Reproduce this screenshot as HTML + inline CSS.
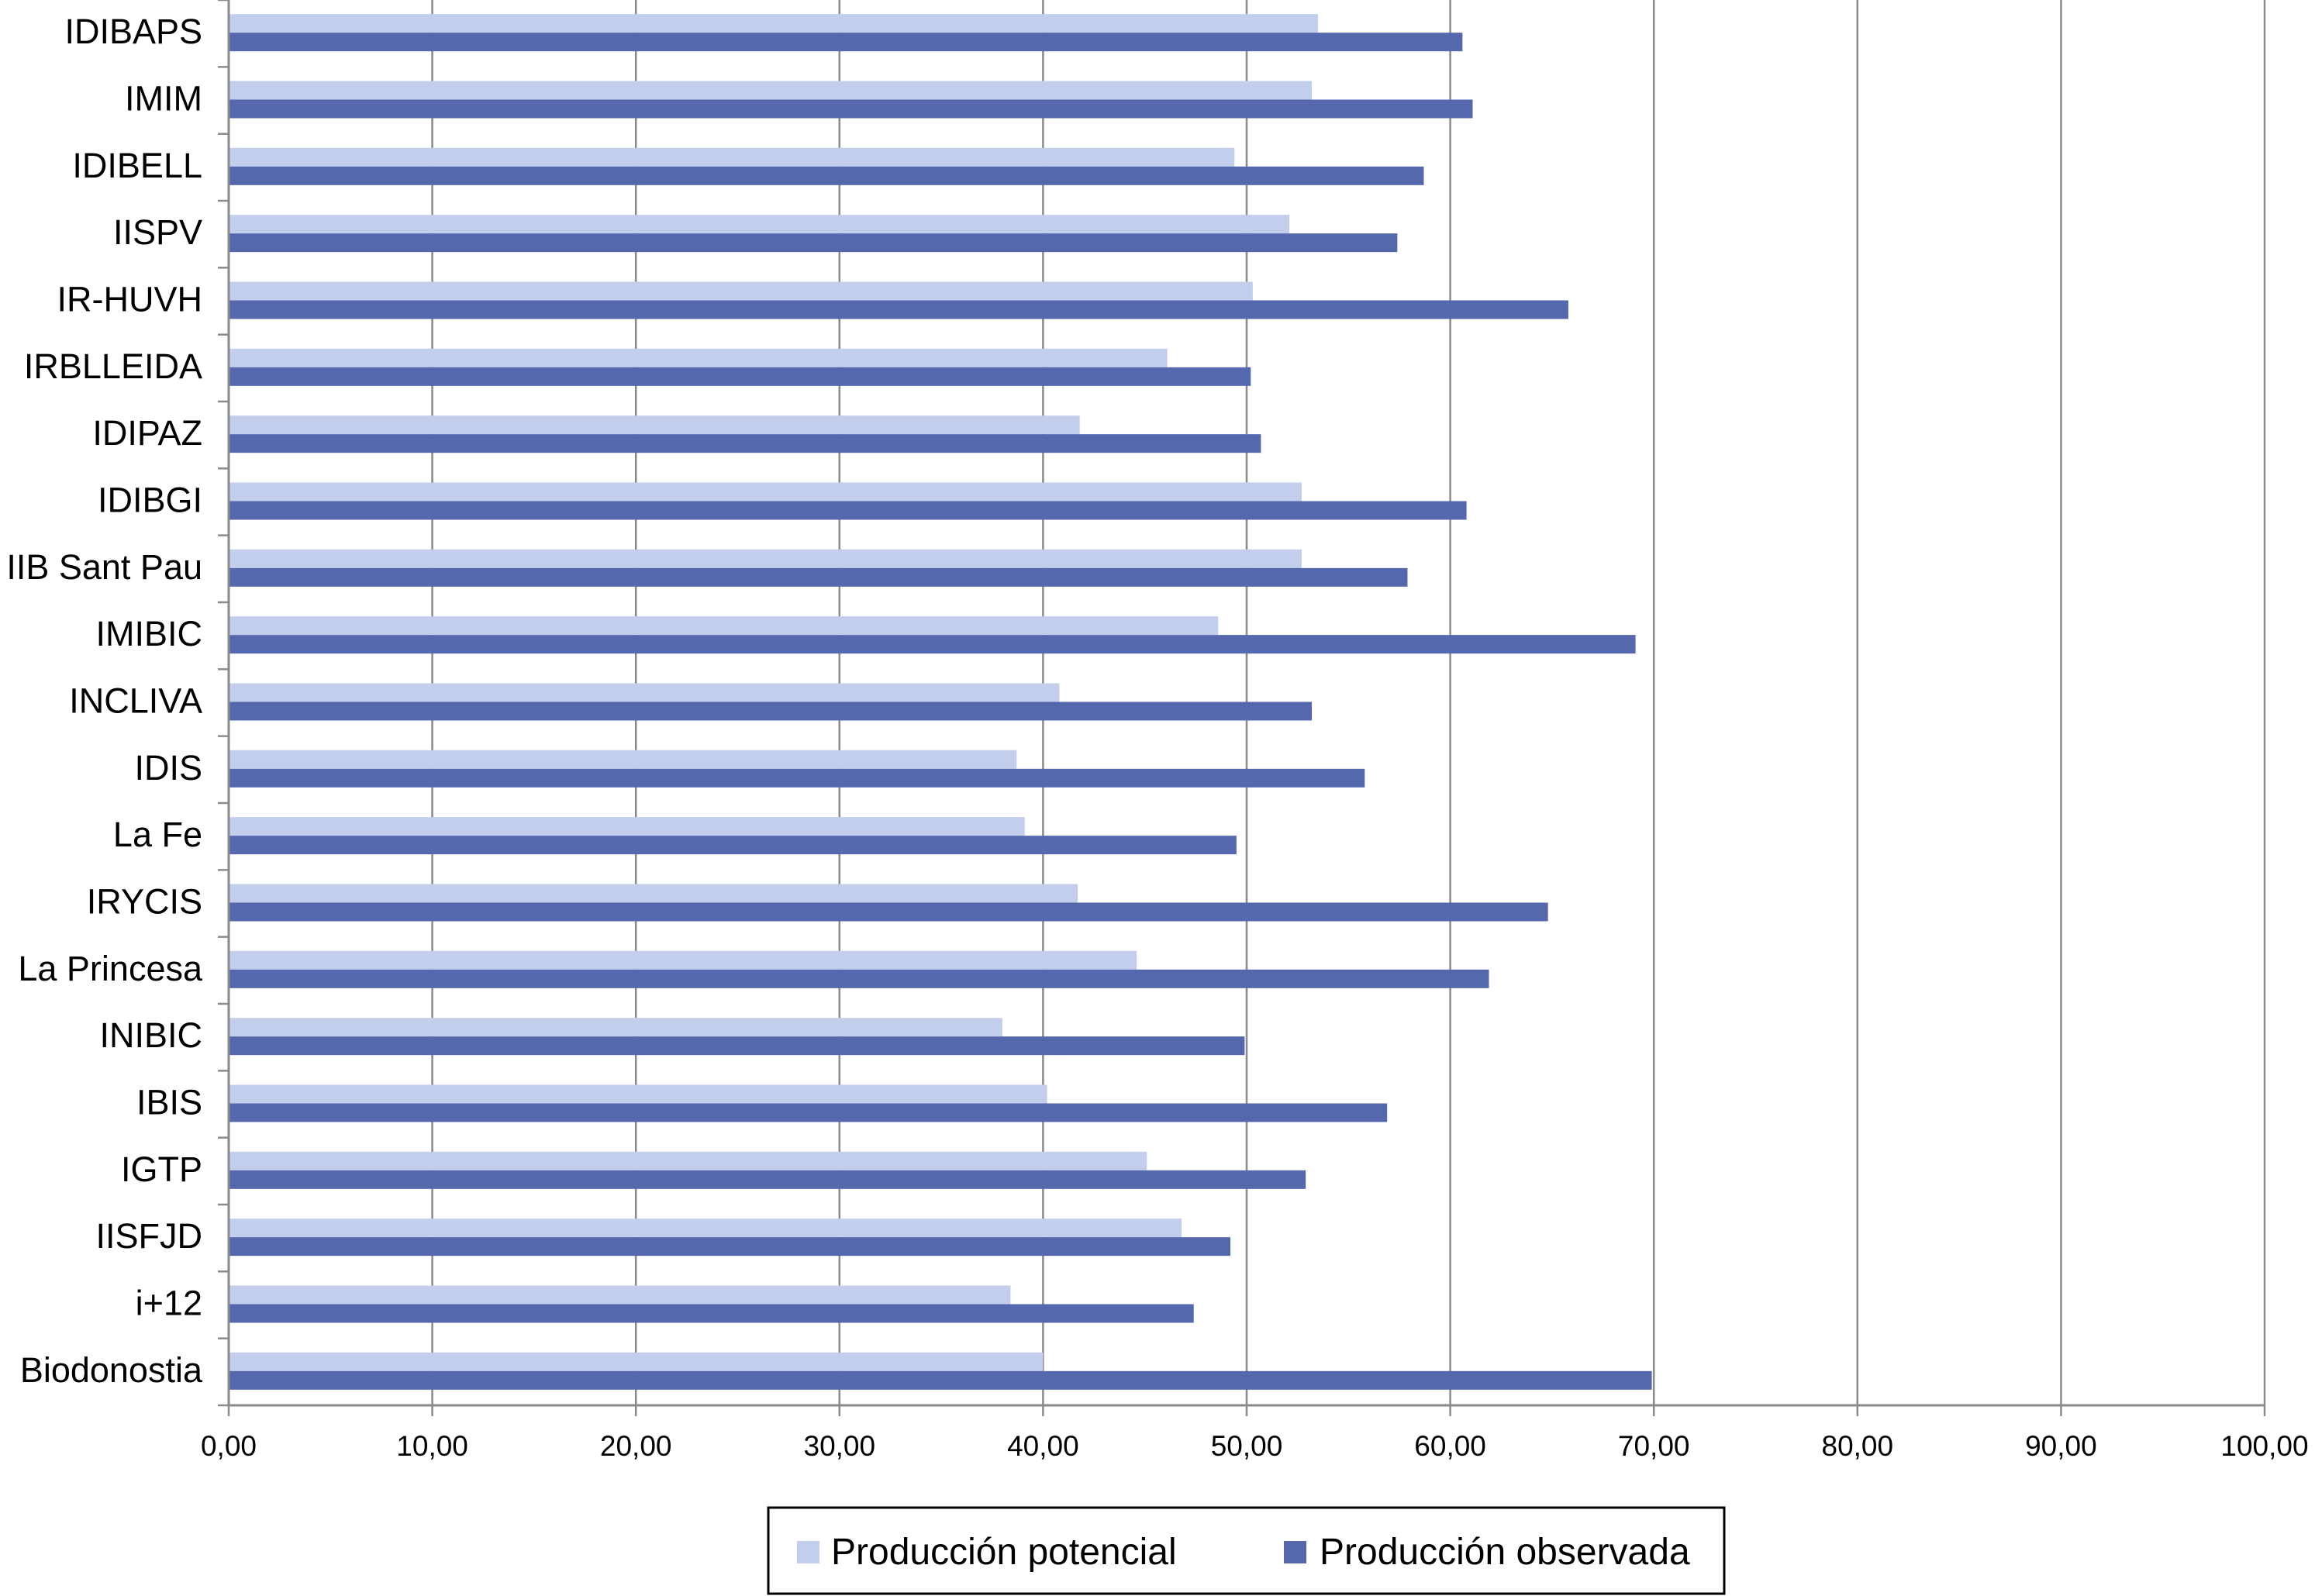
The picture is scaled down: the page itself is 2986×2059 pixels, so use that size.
<!DOCTYPE html>
<html><head><meta charset="utf-8"><style>
html,body{margin:0;padding:0;background:#fff}
svg{display:block}
text{font-family:"Liberation Sans",Arial,sans-serif;fill:#000}
</style></head><body>
<svg id="chart" width="2986" height="2059" viewBox="0 0 2986 2059" xmlns="http://www.w3.org/2000/svg">
<g id="grid"></g>
<g id="bars"></g>
<g id="axes"></g>
<g>
<rect x="991" y="1945" width="1233" height="111" fill="#fff" stroke="#000" stroke-width="3"/>
<rect x="1028" y="1988" width="29" height="29" fill="#c3cdec"/>
<text x="1072" y="2018" font-size="48">Producción potencial</text>
<rect x="1656" y="1988" width="29" height="29" fill="#5567ad"/>
<text x="1702" y="2018" font-size="48">Producción observada</text>
</g>
</svg>
<script>
const categories=["IDIBAPS","IMIM","IDIBELL","IISPV","IR-HUVH","IRBLLEIDA","IDIPAZ","IDIBGI","IIB Sant Pau","IMIBIC","INCLIVA","IDIS","La Fe","IRYCIS","La Princesa","INIBIC","IBIS","IGTP","IISFJD","i+12","Biodonostia"];
const potencial=[53.5,53.2,49.4,52.1,50.3,46.1,41.8,52.7,52.7,48.6,40.8,38.7,39.1,41.7,44.6,38.0,40.2,45.1,46.8,38.4,40.0];
const observada=[60.6,61.1,58.7,57.4,65.8,50.2,50.7,60.8,57.9,69.1,53.2,55.8,49.5,64.8,61.9,49.9,56.9,52.9,49.2,47.4,69.9];
const ticks=[0,10,20,30,40,50,60,70,80,90,100];
const tickLabels=["0,00","10,00","20,00","30,00","40,00","50,00","60,00","70,00","80,00","90,00","100,00"];

const NS="http://www.w3.org/2000/svg";
const X0=295,X1=2921,Y0=0,Y1=1813;
const xs=v=>X0+(v/100)*(X1-X0);
const rowH=(Y1-Y0)/categories.length;
const ys=i=>Y0+i*rowH;
function mk(tag,attrs,parent){const e=document.createElementNS(NS,tag);for(const k in attrs)e.setAttribute(k,attrs[k]);parent.appendChild(e);return e;}
const grid=document.getElementById('grid'),bars=document.getElementById('bars'),axes=document.getElementById('axes');
ticks.forEach((t,i)=>{
  if(i>0){const l=mk('line',{x1:xs(t),x2:xs(t),y1:Y0,y2:Y1,stroke:'#8a8a8a','stroke-width':2.5},grid);
  
  }
  const tk=mk('line',{x1:xs(t),x2:xs(t),y1:Y1,y2:Y1+14,stroke:'#8a8a8a','stroke-width':2.5},axes);
  
  
  const tx=mk('text',{x:xs(t),y:Y1+65,'font-size':37,'text-anchor':'middle'},axes);
  tx.textContent=tickLabels[i];
  
  
});
const bh=24;
categories.forEach((c,i)=>{
  const cy=ys(i)+rowH/2;
  const b1=mk('rect',{x:X0,y:cy-bh-1,width:xs(potencial[i])-X0,height:bh,fill:'#c3cdec'},bars);
  
  
  const b2=mk('rect',{x:X0,y:cy-1,width:xs(observada[i])-X0,height:bh,fill:'#5567ad'},bars);
  
  
  const lb=mk('text',{x:261,y:cy+13,'font-size':45,'text-anchor':'end'},axes);
  lb.textContent=c;
  
  
});
for(let i=0;i<=categories.length;i++){
  const t=mk('line',{x1:X0-14,x2:X0,y1:ys(i),y2:ys(i),stroke:'#8a8a8a','stroke-width':2.5},axes);
  
  
}
const ya=mk('line',{x1:X0,x2:X0,y1:Y0,y2:Y1,stroke:'#8a8a8a','stroke-width':3},axes);


const xa=mk('line',{x1:X0,x2:X1,y1:Y1,y2:Y1,stroke:'#8a8a8a','stroke-width':3},axes);


</script>
</body></html>
